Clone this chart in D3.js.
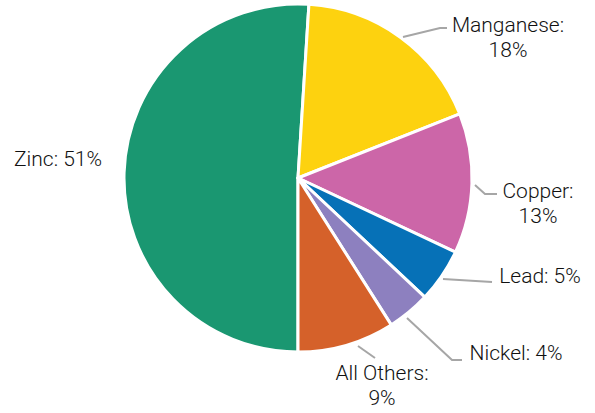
<!DOCTYPE html>
<html>
<head>
<meta charset="utf-8">
<script src="https://cdn.jsdelivr.net/npm/d3@7"></script>
<style>
  body { margin: 0; background: #fff; }
  text { font-family: Roboto, sans-serif; font-size: 21px; font-weight: 300; fill: #111; }
</style>
</head>
<body>
<svg width="595" height="413"></svg>
<script>
const categories = ["Zinc", "Manganese", "Copper", "Lead", "Nickel", "All Others"]
const shares = [51, 18, 13, 5, 4, 9]
const colors = ["#1a9771", "#fdd20f", "#cc66a8", "#0671b7", "#8d80bf", "#d5612a"]
// label lines, as text rows; anchor point and leader elbow per slice
const labelLines = [["Zinc: 51%"], ["Manganese:", "18%"], ["Copper:", "13%"], ["Lead: 5%"], ["Nickel: 4%"], ["All Others:", "9%"]]
const labelPos = [[58, 166], [508, 32], [538, 198], [540, 283], [516, 360], [382, 380]]
const leaders = [null, [[403, 37], [440, 28], [447, 28]], [[475, 185], [485, 194], [497, 194]],
  [[443, 279], [492, 282]], [[407, 318], [452, 360], [462, 360]], [[358, 346], [375, 358]]]

const svg = d3.select("svg")
const cx = 298, cy = 178, r = 174

const data = categories.map((c, i) => ({ name: c, value: shares[i], i }))
const pie = d3.pie().sort(null).value(d => d.value).startAngle(Math.PI).endAngle(3 * Math.PI)
const arc = d3.arc().innerRadius(0).outerRadius(r)

const g = svg.append("g").attr("transform", `translate(${cx},${cy})`)
g.selectAll("path")
  .data(pie(data))
  .enter()
  .append("path")
  .attr("d", arc)
  .attr("fill", d => colors[d.data.i])
  .attr("stroke", "#fff")
  .attr("stroke-width", 3)
  .attr("stroke-linejoin", "round")

const line = d3.line()
svg.selectAll(".leader")
  .data(leaders.filter(l => l))
  .enter()
  .append("path")
  .attr("class", "leader")
  .attr("d", d => line(d))
  .attr("fill", "none")
  .attr("stroke", "#a6a6a6")
  .attr("stroke-width", 2)

// one text element per label row
const rows = labelLines.flatMap((lines, i) => lines.map((t, k) => ({ t, k, i })))
svg.selectAll(".label")
  .data(rows)
  .enter()
  .append("text")
  .attr("class", "label")
  .attr("text-anchor", "middle")
  .attr("x", d => labelPos[d.i][0])
  .attr("y", d => labelPos[d.i][1] + d.k * 25)
  .text(d => d.t)
</script>
</body>
</html>
